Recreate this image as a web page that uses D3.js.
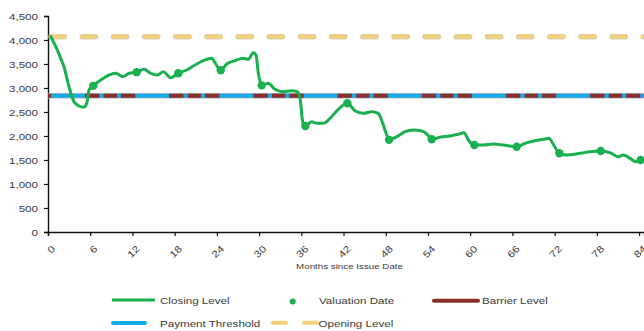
<!DOCTYPE html>
<html>
<head>
<meta charset="utf-8">
<script src="https://cdn.jsdelivr.net/npm/d3@7"></script>
<style>
  html, body { margin: 0; padding: 0; background: #fff; }
  svg { display: block; font-family: "Liberation Sans", Arial, sans-serif; }
</style>
</head>
<body>
<svg id="chart" width="644" height="331"></svg>
<script>
// Index closing level, months since issue date
const closingMonths = [0.4, 1.32, 1.8, 2.27, 2.98, 3.7, 4.41, 5.02, 5.5, 5.83, 6.44,
  7.49, 8.91, 9.62, 10.66, 11.51, 12.61, 13.64, 14.6, 15.53, 16.39, 17.44, 18.52,
  19.71, 20.89, 22.07, 23.27, 23.73, 24.55, 25.4, 26.58, 27.76, 28.47, 29.18, 29.56,
  29.89, 30.37, 31.31, 32.26, 33.44, 34.64, 35.43, 35.82, 36.2, 36.57, 37.48, 38.19,
  39.13, 40.08, 41.26, 42.54, 43.63, 44.81, 46.01, 46.94, 47.57, 48.14, 48.47, 49.56,
  50.74, 51.92, 53.11, 53.91, 54.53, 55.71, 57.13, 58.31, 59.12, 59.74, 60.59, 61.87,
  63.29, 64.71, 66.61, 67.79, 69.21, 70.4, 71.21, 71.73, 72.67, 73.72, 75.61, 77.03,
  78.55, 79.87, 81.05, 81.76, 82.72, 83.51, 84.22];
const closingValues = [4069, 3792, 3618, 3444, 3028, 2715, 2625, 2598, 2681, 2958, 3045,
  3167, 3285, 3306, 3236, 3306, 3330, 3389, 3306, 3271, 3340, 3215, 3306,
  3375, 3479, 3569, 3618, 3527, 3370, 3500, 3569, 3618, 3597, 3735, 3688,
  3306, 3055, 3097, 2973, 2923, 2944, 2923, 2785, 2298, 2208, 2298, 2264,
  2264, 2368, 2556, 2681, 2527, 2472, 2506, 2472, 2264, 2021, 1920, 1986,
  2090, 2125, 2104, 2035, 1931, 1973, 2000, 2035, 2069, 1917, 1812, 1812,
  1833, 1812, 1777, 1847, 1902, 1931, 1951, 1847, 1640, 1604, 1640, 1673,
  1688, 1652, 1569, 1604, 1535, 1465, 1500];

// Observation (valuation) dates and their closing levels
const valuationMonths = [6.44, 12.61, 18.52, 24.55, 30.37, 36.57, 42.54, 48.47, 54.53, 60.59, 66.61, 72.67, 78.55, 84.22];
const valuationValues = [3045, 3330, 3306, 3370, 3055, 2208, 2681, 1920, 1931, 1812, 1777, 1640, 1688, 1500];

// Reference levels
const openingLevel = 4069;
const barrierLevel = 2840;
const paymentThreshold = 2840;

// Axis ticks
const xTicks = [0, 6, 12, 18, 24, 30, 36, 42, 48, 54, 60, 66, 72, 78, 84];
const yTicks = [0, 500, 1000, 1500, 2000, 2500, 3000, 3500, 4000, 4500];
const xDomain = [0, 84.7];
const yDomain = [0, 4500];

const legendLabels = ["Closing Level", "Valuation Date", "Barrier Level", "Payment Threshold", "Opening Level"];

const COLORS = {
  closing: "#1aaf4f",
  barrier: "#8c2f2b",
  payment: "#14abe8",
  opening: "#f3d07a",
  openingEdge: "#d6cdb2",
  edge: "#b9b9b9",
  text: "#3a3a3a"
};

const STRETCH = 1.22; // horizontal text widening

const svg = d3.select("#chart");
const x = d3.scaleLinear().domain(xDomain).range([48, 644]);
const y = d3.scaleLinear().domain(yDomain).range([232, 16]);

function widen(sel) {
  sel.each(function () {
    const w = this.getComputedTextLength();
    this.setAttribute("textLength", (w * STRETCH).toFixed(2));
    this.setAttribute("lengthAdjust", "spacingAndGlyphs");
  });
}

// Axes
const yAxis = svg.append("g")
  .attr("transform", `translate(${x(0)},0)`)
  .call(d3.axisLeft(y).tickValues(yTicks).tickSize(4).tickPadding(6).tickFormat(d3.format(",")));
const xAxis = svg.append("g")
  .attr("transform", `translate(0,${y(0)})`)
  .call(d3.axisBottom(x).tickValues(xTicks).tickSize(4).tickFormat(d3.format("d")));

[yAxis, xAxis].forEach(g => {
  g.select(".domain").attr("stroke", "#111").attr("stroke-width", 1.4);
  g.selectAll(".tick line").attr("stroke", "#111").attr("stroke-width", 1.2);
  g.selectAll("text").attr("fill", COLORS.text).style("font-size", "9.5px");
});
yAxis.selectAll("text").call(widen);
xAxis.selectAll(".tick text")
  .attr("text-anchor", "end")
  .attr("y", 0).attr("dy", "0.35em")
  .attr("transform", "translate(5,15) rotate(-45)")
  .call(widen);

svg.append("text")
  .attr("x", (x(0) + x(84)) / 2 + 6)
  .attr("y", 269)
  .attr("text-anchor", "middle")
  .attr("fill", COLORS.text)
  .style("font-size", "8px")
  .text("Months since Issue Date")
  .call(widen);

// Horizontal reference levels
const hLine = (v) => d3.line()([[x(xDomain[0]), y(v)], [x(xDomain[1]), y(v)]]);

svg.append("path").attr("d", hLine(paymentThreshold))
  .attr("stroke", COLORS.edge).attr("stroke-width", 5.4).attr("fill", "none");
svg.append("path").attr("d", hLine(paymentThreshold))
  .attr("stroke", COLORS.payment).attr("stroke-width", 4).attr("fill", "none");
svg.append("path").attr("d", hLine(barrierLevel))
  .attr("stroke", COLORS.barrier).attr("stroke-width", 4).attr("fill", "none")
  .attr("stroke-dasharray", "14.3,4.3,13.3,4,14.3,34")
  .attr("stroke-dashoffset", 47.2);

svg.append("path").attr("d", hLine(openingLevel))
  .attr("stroke", COLORS.openingEdge).attr("stroke-width", 5.4).attr("fill", "none")
  .attr("stroke-linecap", "round")
  .attr("stroke-dasharray", "13.5,17.67").attr("stroke-dashoffset", 28.17);
svg.append("path").attr("d", hLine(openingLevel))
  .attr("stroke", COLORS.opening).attr("stroke-width", 3.8).attr("fill", "none")
  .attr("stroke-linecap", "round")
  .attr("stroke-dasharray", "13.5,17.67").attr("stroke-dashoffset", 28.17);

// Closing level line
const closing = closingMonths.map((m, i) => [m, closingValues[i]]);
svg.append("path")
  .datum(closing)
  .attr("d", d3.line().x(d => x(d[0])).y(d => y(d[1])).curve(d3.curveMonotoneX))
  .attr("fill", "none")
  .attr("stroke", COLORS.closing)
  .attr("stroke-width", 3)
  .attr("stroke-linejoin", "round")
  .attr("stroke-linecap", "round");

// Valuation date markers
svg.append("g").selectAll("circle")
  .data(valuationMonths.map((m, i) => [m, valuationValues[i]]))
  .join("circle")
  .attr("cx", d => x(d[0]))
  .attr("cy", d => y(d[1]))
  .attr("r", 4.2)
  .attr("fill", COLORS.closing);

// Legend
const legend = svg.append("g");
const lg = (x1, x2, yy) => d3.line()([[x1, yy], [x2, yy]]);
legend.append("path").attr("d", lg(112, 155, 300))
  .attr("stroke", COLORS.closing).attr("stroke-width", 3).attr("fill", "none");
legend.append("circle").attr("cx", 292.7).attr("cy", 301.5).attr("r", 3).attr("fill", COLORS.closing);
legend.append("path").attr("d", lg(434, 478, 300.7))
  .attr("stroke", COLORS.barrier).attr("stroke-width", 4).attr("fill", "none").attr("stroke-linecap", "round");
legend.append("path").attr("d", lg(113, 145, 323))
  .attr("stroke", COLORS.payment).attr("stroke-width", 4).attr("fill", "none").attr("stroke-linecap", "round");
legend.append("path").attr("d", lg(273, 318, 322.7))
  .attr("stroke", COLORS.opening).attr("stroke-width", 4).attr("fill", "none")
  .attr("stroke-linecap", "round").attr("stroke-dasharray", "13,18");

const legendPos = [[160, 304], [319, 304], [482, 304], [160, 327], [318.5, 327]];
legend.selectAll("text")
  .data(legendLabels)
  .join("text")
  .attr("x", (d, i) => legendPos[i][0])
  .attr("y", (d, i) => legendPos[i][1])
  .attr("fill", COLORS.text)
  .style("font-size", "9.5px")
  .text(d => d)
  .call(widen);
</script>
</body>
</html>
